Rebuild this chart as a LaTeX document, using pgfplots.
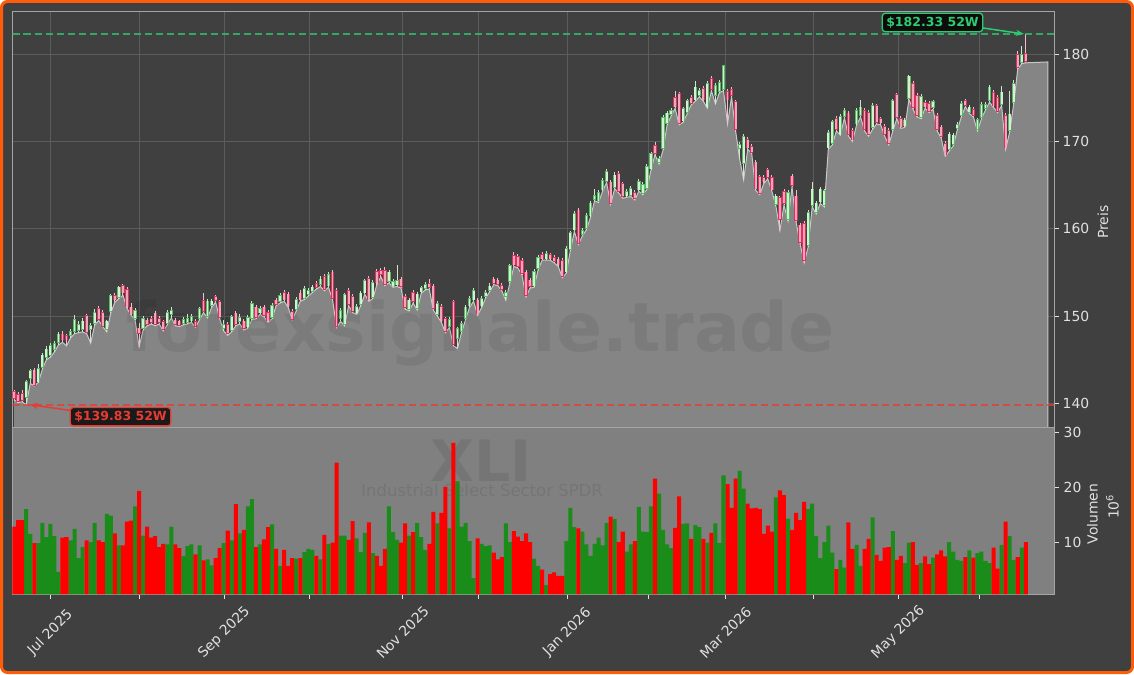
\documentclass[border=0pt]{standalone}
\usepackage{pgfplots}
\pgfplotsset{compat=1.18}
\usepackage{pgfplotstable}
\usepackage{fontspec}
\setmainfont{DejaVu Sans}
\usetikzlibrary{arrows.meta}
\definecolor{bg}{RGB}{64,64,64}
\definecolor{frame}{RGB}{255,92,10}
\definecolor{gridc}{RGB}{92,92,92}
\definecolor{spine}{RGB}{165,165,165}
\definecolor{areaf}{RGB}{133,133,133}
\definecolor{areal}{RGB}{200,200,200}
\definecolor{volbg}{RGB}{128,128,128}
\definecolor{volg}{RGB}{26,140,26}
\definecolor{volr}{RGB}{255,0,0}
\definecolor{upedge}{RGB}{90,185,100}
\definecolor{upfill}{RGB}{210,240,210}
\definecolor{dnedge}{RGB}{220,50,95}
\definecolor{dnfill}{RGB}{245,165,185}
\definecolor{upwick}{RGB}{205,230,205}
\definecolor{dnwick}{RGB}{240,190,205}
\definecolor{ticktext}{RGB}{225,225,225}
\definecolor{hig}{RGB}{46,204,113}
\definecolor{lor}{RGB}{231,60,50}
\newcommand\ticks{\fontsize{13.9}{16}\selectfont}
\pgfplotstableread{
i o h l c v
0 141.2 141.6 140.4 140.7 12.9
1 140.9 141.3 140.1 140.4 14.1
2 141.0 141.5 140.2 140.5 14.1
3 140.8 142.7 139.83 142.4 16.1
4 143.0 144.0 142.3 143.6 11.6
5 143.7 144.1 142.0 142.2 9.9
6 142.6 144.5 142.4 143.9 9.9
7 144.3 145.8 143.9 145.4 13.6
8 145.4 146.6 145.0 146.1 11.0
9 145.6 146.9 145.3 146.5 13.4
10 146.3 147.1 145.9 146.7 11.2
11 147.1 148.2 146.7 147.8 4.7
12 147.8 148.3 147.0 147.4 10.9
13 147.6 147.9 146.6 147.4 11.0
14 147.9 148.5 147.5 148.1 10.4
15 148.4 150.1 148.0 149.5 12.5
16 148.5 149.5 148.1 148.9 7.2
17 148.6 149.8 148.2 149.3 9.2
18 149.9 150.3 148.0 148.3 10.4
19 148.6 149.2 146.9 148.8 10.1
20 149.3 150.8 149.0 150.3 13.6
21 150.7 151.2 149.5 149.8 10.4
22 150.3 150.7 148.8 149.0 10.1
23 148.6 149.6 148.2 149.3 15.2
24 150.7 152.5 150.4 152.2 14.9
25 152.2 152.6 151.6 152.0 11.7
26 152.3 153.5 152.0 153.2 9.5
27 153.4 153.7 152.4 152.8 9.5
28 152.9 153.3 150.9 151.2 13.8
29 150.9 151.5 150.1 150.4 14.0
30 149.9 150.9 149.6 150.5 16.6
31 148.5 149.2 146.5 148.2 19.4
32 148.7 150.0 148.4 149.55 11.3
33 149.4 149.8 148.9 149.2 12.9
34 149.6 150.0 149.1 149.4 10.9
35 150.2 150.6 148.9 149.2 11.2
36 149.6 150.0 149.1 149.4 9.2
37 149.2 149.5 148.3 148.6 9.8
38 149.3 150.7 149.0 150.3 9.7
39 150.3 151.0 149.8 150.5 12.9
40 149.4 149.8 148.9 149.2 9.7
41 149.3 149.6 148.8 149.1 9.0
42 149.3 149.9 149.0 149.5 7.6
43 149.4 150.3 149.1 149.6 9.4
44 149.6 150.3 149.3 149.8 9.7
45 149.2 149.7 148.7 149.0 7.9
46 149.9 151.0 149.6 150.7 9.5
47 151.65 152.7 150.4 150.7 6.8
48 150.1 152.0 149.8 151.6 7.0
49 151.4 152.0 151.0 151.6 5.9
50 152.1 152.4 151.6 151.9 7.2
51 151.5 151.8 149.7 150.0 9.0
52 148.7 149.5 148.3 148.9 9.9
53 148.9 149.3 147.8 148.2 12.2
54 148.5 150.1 148.2 149.8 10.4
55 150.2 150.6 148.9 149.2 17.0
56 149.5 150.2 149.1 149.7 11.7
57 149.3 149.7 148.4 148.7 12.3
58 148.9 150.1 148.6 149.7 16.6
59 149.9 151.7 149.6 151.3 17.9
60 150.9 151.3 149.7 150.0 9.2
61 150.5 151.2 150.2 150.7 9.7
62 150.9 151.3 149.9 150.2 10.6
63 150.3 150.7 149.3 149.6 12.8
64 150.0 151.5 149.7 151.1 13.3
65 151.7 152.1 151.2 151.5 8.9
66 151.8 152.7 151.5 152.2 5.8
67 152.6 153.0 151.7 152.0 8.7
68 152.4 152.8 151.0 151.3 5.8
69 150.4 150.8 149.6 149.8 7.2
70 150.9 152.2 150.6 151.8 7.1
71 152.5 153.0 151.7 152.0 7.2
72 152.2 153.4 151.9 153.0 8.3
73 152.6 153.2 152.3 152.8 8.9
74 153.0 153.6 152.7 153.2 8.7
75 153.6 154.0 153.1 153.4 7.6
76 153.8 154.6 153.4 154.1 7.0
77 154.4 154.8 152.9 153.2 11.4
78 153.6 155.0 153.3 154.6 9.8
79 154.9 155.3 151.9 152.2 10.0
80 152.8 153.2 148.7 149.0 24.5
81 149.9 150.9 149.4 150.5 11.3
82 149.2 152.7 148.9 152.3 11.3
83 152.8 153.2 151.2 151.5 10.5
84 152.1 152.5 150.4 150.7 13.9
85 150.5 151.4 150.2 151.0 10.8
86 151.5 152.9 151.2 152.5 8.3
87 152.8 154.3 152.5 153.9 11.8
88 154.2 154.6 151.7 152.0 13.7
89 152.3 154.1 152.0 153.7 8.1
90 155.0 155.4 153.6 153.95 7.6
91 155.1 155.5 154.5 154.9 5.8
92 155.1 155.6 153.5 153.8 8.9
93 154.1 155.3 153.8 154.9 16.6
94 153.6 154.3 153.3 153.8 11.9
95 153.7 155.9 153.4 153.9 10.5
96 154.1 154.5 153.2 153.5 10.0
97 152.1 152.5 150.8 151.1 13.5
98 150.9 152.1 150.6 151.7 11.3
99 152.6 153.0 151.5 151.8 11.9
100 151.0 152.8 150.7 152.4 13.6
101 152.9 153.5 152.6 153.1 11.0
102 153.3 153.9 153.0 153.5 8.7
103 153.6 154.2 153.1 153.4 9.8
104 153.3 153.7 150.7 151.0 15.6
105 150.3 151.7 150.0 151.3 13.5
106 151.0 151.4 149.3 149.6 15.4
107 149.55 149.9 148.1 148.4 20.1
108 149.0 149.9 148.7 149.5 12.6
109 151.5 151.9 146.6 146.9 28.1
110 147.6 148.8 146.3 148.4 21.1
111 148.4 149.4 148.1 149.0 12.9
112 149.9 151.3 149.6 150.9 13.6
113 151.3 152.3 151.0 151.9 10.3
114 152.0 153.2 151.7 152.8 3.6
115 151.7 152.1 150.1 150.4 10.8
116 151.3 152.3 151.0 151.9 9.8
117 152.4 153.0 152.1 152.6 9.4
118 153.1 153.8 152.8 153.3 9.5
119 154.1 154.5 153.6 153.9 8.2
120 154.0 154.4 153.5 153.8 7.0
121 153.4 153.8 152.9 153.2 7.4
122 152.4 153.0 151.8 152.6 13.5
123 154.1 156.0 153.8 155.65 10.1
124 156.8 157.3 155.7 156.0 12.1
125 156.7 157.1 155.5 155.8 11.1
126 156.2 156.6 154.7 155.0 10.3
127 154.9 155.3 152.2 152.5 11.7
128 154.0 154.4 153.2 153.5 10.1
129 153.6 155.4 153.3 155.0 7.1
130 155.6 157.0 155.3 156.6 5.8
131 156.9 157.3 156.4 156.7 5.1
132 156.7 157.4 156.4 157.0 2.3
133 156.9 157.2 156.4 156.7 4.3
134 156.6 157.0 156.1 156.4 4.6
135 156.4 156.8 155.7 156.0 4.0
136 156.2 156.6 154.4 154.7 4.0
137 155.2 158.0 154.9 157.6 10.3
138 157.8 159.8 157.5 159.4 16.3
139 160.0 162.0 159.7 161.6 12.8
140 162.0 162.4 158.2 158.5 12.6
141 159.5 160.1 159.2 159.7 12.0
142 160.2 161.8 159.9 161.4 9.7
143 161.6 163.2 161.3 162.8 7.6
144 163.5 164.5 163.2 163.7 9.8
145 163.3 164.4 163.0 164.0 10.9
146 164.6 165.8 164.3 165.4 9.5
147 165.6 166.9 165.3 166.4 13.6
148 165.2 165.6 162.8 163.0 14.7
149 164.9 166.5 164.6 166.0 14.3
150 166.2 166.6 164.1 164.4 10.1
151 165.0 165.4 163.5 163.8 12.0
152 163.9 164.5 163.6 164.1 8.4
153 164.0 164.9 163.7 164.5 9.7
154 164.0 164.4 163.3 163.6 10.3
155 164.6 165.7 164.3 165.3 16.5
156 164.2 165.3 163.9 164.9 12.0
157 164.8 167.4 164.5 167.0 11.9
158 167.0 168.8 166.7 168.45 16.6
159 169.4 169.9 168.5 168.8 21.6
160 167.7 168.3 167.4 167.9 18.9
161 169.3 173.0 169.0 172.6 12.3
162 172.2 173.5 171.9 173.1 9.7
163 173.2 173.8 172.9 173.4 9.0
164 174.9 175.8 173.8 174.1 12.7
165 175.3 175.7 171.9 172.2 18.4
166 172.5 174.0 172.2 173.65 13.4
167 173.5 174.9 173.2 174.5 13.5
168 174.9 175.3 174.2 174.5 10.7
169 174.9 176.9 174.6 176.1 13.2
170 175.4 176.1 175.1 175.7 12.8
171 175.9 176.3 174.6 174.9 10.7
172 174.1 176.9 173.8 176.5 10.0
173 177.1 177.5 175.8 176.1 11.8
174 175.4 176.7 174.3 176.3 13.5
175 175.9 177.0 175.6 176.6 9.9
176 176.1 178.8 175.8 178.55 22.2
177 175.6 176.0 172.0 174.9 20.6
178 175.8 176.2 175.1 175.4 16.3
179 174.45 174.8 171.2 171.55 21.6
180 169.3 169.9 168.0 169.5 23.0
181 167.6 170.8 165.6 170.4 19.8
182 170.1 170.5 169.1 169.4 17.1
183 169.3 169.7 168.6 168.9 16.2
184 167.5 167.9 164.4 164.7 16.3
185 165.8 166.2 163.9 164.2 16.1
186 165.7 166.1 165.2 165.5 11.6
187 166.6 167.0 165.7 166.0 13.1
188 165.7 166.1 164.3 164.6 12.0
189 162.9 164.0 162.6 163.6 18.2
190 163.4 163.8 159.8 161.2 19.5
191 164.1 164.5 162.7 163.0 18.6
192 161.2 164.4 160.9 164.0 14.3
193 165.9 166.3 164.8 165.1 12.3
194 163.6 164.4 160.8 161.1 15.4
195 160.3 160.7 158.3 158.6 14.1
196 160.5 160.9 156.1 156.5 17.4
197 158.2 162.1 157.9 161.7 16.1
198 162.8 165.4 162.5 164.4 17.1
199 162.0 163.2 161.7 162.8 11.2
200 163.2 164.8 162.9 164.4 7.2
201 162.8 164.6 162.5 164.2 10.1
202 169.4 171.3 169.1 170.9 13.1
203 169.9 172.5 169.6 172.15 8.2
204 172.5 172.9 171.2 171.5 5.2
205 171.0 173.1 170.7 172.7 6.9
206 173.0 173.8 172.7 173.4 5.5
207 173.1 173.5 170.6 170.9 13.7
208 171.1 171.5 170.0 170.3 8.9
209 172.15 173.8 171.85 173.4 9.6
210 173.1 174.8 172.8 173.8 5.8
211 173.4 173.8 171.2 171.5 8.9
212 173.2 173.6 170.6 170.9 10.7
213 171.7 174.4 171.4 174.0 14.6
214 173.95 174.3 172.0 172.35 7.8
215 172.45 172.8 171.9 172.25 6.7
216 171.6 172.0 170.6 170.9 9.1
217 171.1 171.5 169.6 169.9 9.2
218 171.5 174.9 171.2 174.5 12.1
219 175.2 175.6 172.6 172.9 6.9
220 172.5 172.9 171.5 171.8 7.6
221 171.9 172.7 171.6 172.3 6.3
222 175.1 177.6 174.8 177.35 10.0
223 176.5 176.9 173.7 174.0 10.1
224 175.1 175.6 172.8 173.1 6.0
225 172.9 175.4 172.6 175.0 6.3
226 174.3 174.7 173.8 174.1 7.5
227 174.2 174.6 173.3 173.6 6.1
228 174.0 174.8 173.7 174.4 7.3
229 172.8 173.2 171.2 171.5 7.9
230 171.5 171.9 170.4 170.7 8.6
231 169.65 170.0 168.3 168.6 7.5
232 169.2 171.1 168.9 170.7 10.1
233 169.8 171.0 169.5 170.6 8.4
234 171.6 172.2 171.3 171.8 6.9
235 173.1 174.6 172.8 174.2 6.7
236 174.5 174.9 174.0 174.3 7.4
237 173.5 174.2 173.2 173.8 8.6
238 173.5 173.9 172.8 173.1 7.3
239 171.5 172.7 171.2 172.35 8.1
240 172.9 174.5 172.6 174.1 8.4
241 173.9 174.5 173.6 174.1 6.7
242 174.8 176.5 174.5 176.1 6.3
243 175.5 175.9 173.9 174.2 9.1
244 174.9 175.3 173.3 173.6 5.3
245 174.4 176.3 174.1 175.5 9.6
246 172.8 173.2 169.1 169.4 13.8
247 171.4 175.8 171.1 173.0 11.2
248 174.6 177.0 174.3 176.5 6.9
249 179.85 180.4 178.3 178.6 7.4
250 179.2 180.9 178.9 179.8 9.1
251 179.9 182.33 179.0 179.3 10.1
}\prices
\pgfplotsset{
  upsel/.style={restrict expr to domain={\thisrow{c}-\thisrow{o}}{0:1000}},
  dnsel/.style={restrict expr to domain={\thisrow{c}-\thisrow{o}}{-1000:-0.00001}},
  stick/.style n args={2}{draw=none, mark=none, #1, error bars/.cd, y dir=both, y explicit, error mark=none, error bar style={#2}},
}
\begin{document}
\begin{tikzpicture}[x=1pt,y=1pt]
\useasboundingbox (0,0) rectangle (1134,674);
\fill[white] (0,0) rectangle (1134,674);
\filldraw[fill=bg, draw=frame, line width=3pt, rounded corners=6pt] (1.5,1.5) rectangle (1132.5,672.5);
% price panel
\begin{axis}[
  at={(12.5pt,246.5pt)}, anchor=south west, scale only axis,
  width=1041.5pt, height=416.2pt,
  xmin=-0.4, xmax=258, ymin=137.25, ymax=184.9,
  axis line style={draw=spine, line width=0.8pt},
  xtick={9,31.07,52.16,73.25,96.38,115.16,137.27,157.34,176.5,198.31,219.38,239.55},
  xticklabel=\empty, xtick style={draw=none},
  ytick={140,150,160,170,180},
  ytick pos=upper, yticklabel pos=upper,
  ytick style={draw=ticktext, line width=0.8pt},
  tick align=outside, major tick length=4.5pt,
  grid=major, major grid style={draw=gridc, line width=0.8pt},
  /pgf/number format/assume math mode=true,
  yticklabel style={font=\ticks, text=ticktext, inner sep=0pt, anchor=west, xshift=4pt},
]
\addplot[draw=none, fill=areaf] table[x=i,y=l]{\prices} \closedcycle;
\addplot[draw=none, fill=areaf] coordinates {(250,178.9) (251,179.0) (256.5,179.1)} \closedcycle;
\addplot[areal, line width=1pt, mark=none] table[x=i,y=l]{\prices};
\addplot[areal, line width=1pt, mark=none] coordinates {(251,179.0) (256.5,179.1) (256.5,137.25)};
\node[anchor=base, font=\bfseries\fontsize{68}{70}\selectfont, text=black, text opacity=0.07] at (axis cs:115.7,146.0) {forexsignale.trade};
% wicks
\addplot[stick={upsel}{draw=upwick, line width=0.9pt}]
  table[x=i, y expr={(\thisrow{h}+\thisrow{l})/2}, y error expr={(\thisrow{h}-\thisrow{l})/2}]{\prices};
\addplot[stick={dnsel}{draw=dnwick, line width=0.9pt}]
  table[x=i, y expr={(\thisrow{h}+\thisrow{l})/2}, y error expr={(\thisrow{h}-\thisrow{l})/2}]{\prices};
% bodies
\addplot[stick={upsel}{draw=upedge, line width=3.3pt, line cap=rect}]
  table[x=i, y expr={(\thisrow{o}+\thisrow{c})/2}, y error expr={abs(\thisrow{c}-\thisrow{o})/2}]{\prices};
\addplot[stick={upsel}{draw=upfill, line width=1.8pt, line cap=rect}]
  table[x=i, y expr={(\thisrow{o}+\thisrow{c})/2}, y error expr={abs(\thisrow{c}-\thisrow{o})/2}]{\prices};
\addplot[stick={dnsel}{draw=dnedge, line width=3.3pt, line cap=rect}]
  table[x=i, y expr={(\thisrow{o}+\thisrow{c})/2}, y error expr={abs(\thisrow{c}-\thisrow{o})/2}]{\prices};
\addplot[stick={dnsel}{draw=dnfill, line width=1.8pt, line cap=rect}]
  table[x=i, y expr={(\thisrow{o}+\thisrow{c})/2}, y error expr={abs(\thisrow{c}-\thisrow{o})/2}]{\prices};
% 52W lines
\addplot[hig, mark=none, draw opacity=0.75, dash pattern=on 7.7pt off 3.3pt, line width=2pt] coordinates {(-0.4,182.33) (258,182.33)};
\addplot[lor, mark=none, draw opacity=0.75, dash pattern=on 7.7pt off 3.3pt, line width=2pt] coordinates {(-0.4,139.83) (258,139.83)};
\end{axis}
% volume panel
\begin{axis}[
  at={(12.5pt,79.7pt)}, anchor=south west, scale only axis,
  width=1041.5pt, height=166.8pt,
  xmin=-0.4, xmax=258, ymin=0.65, ymax=30.87,
  axis background/.style={fill=volbg},
  axis line style={draw=spine, line width=0.8pt},
  xtick={9,31.07,52.16,73.25,96.38,115.16,137.27,157.34,176.5,198.31,219.38,239.55},
  xticklabels={Jul 2025,,Sep 2025,,Nov 2025,,Jan 2026,,Mar 2026,,May 2026,},
  xtick pos=lower, ytick pos=upper, yticklabel pos=upper,
  ytick={10,20,30},
  tick align=outside, major tick length=4.5pt,
  tick style={draw=ticktext, line width=0.8pt},
  /pgf/number format/assume math mode=true,
  xticklabel style={font=\ticks, text=ticktext, inner sep=0pt, yshift=-33.7pt, rotate=45, anchor=center},
  yticklabel style={font=\ticks, text=ticktext, inner sep=0pt, anchor=west, xshift=5pt},
]
\node[anchor=base, font=\bfseries\fontsize{57}{60}\selectfont, text=black, text opacity=0.08] at (axis cs:115.9,21.0) {XLI};
\node[anchor=base, font=\fontsize{16.5}{18}\selectfont, text=black, text opacity=0.08] at (axis cs:116.1,18.3) {Industrial Select Sector SPDR};
\addplot[ybar, bar width=1, bar shift=0pt, fill=volg, draw=none, upsel] table[x=i,y=v]{\prices};
\addplot[ybar, bar width=1, bar shift=0pt, fill=volr, draw=none, dnsel] table[x=i,y=v]{\prices};
\end{axis}
% labels
\node[rotate=90, font=\ticks, text=ticktext] at (1103,452) {Preis};
\node[rotate=90, font=\ticks, text=ticktext] at (1092.5,160) {Volumen};
\node[rotate=90, font=\ticks, text=ticktext] at (1112.5,167.3) {10\textsuperscript{6}};
% annotations
\draw[-{Stealth[length=8pt,width=6pt]}, hig, line width=1.5pt] (983,646) -- (1024,640);
\node[fill=black, fill opacity=0.8, text opacity=1, draw=hig, draw opacity=1, line width=1.3pt, rounded corners=3pt, inner xsep=4pt, inner ysep=3.5pt, font=\bfseries\fontsize{12.5}{14}\selectfont, text=hig] at (932.5,651.5) {\$182.33 52W};
\draw[-{Stealth[length=8pt,width=6pt]}, lor, line width=1.5pt] (72,263.3) -- (30,269.3);
\node[fill=black, fill opacity=0.8, text opacity=1, draw=lor, draw opacity=1, line width=1.3pt, rounded corners=3pt, inner xsep=4pt, inner ysep=3.5pt, font=\bfseries\fontsize{12.5}{14}\selectfont, text=lor] at (120.5,257.3) {\$139.83 52W};
\end{tikzpicture}
\end{document}
